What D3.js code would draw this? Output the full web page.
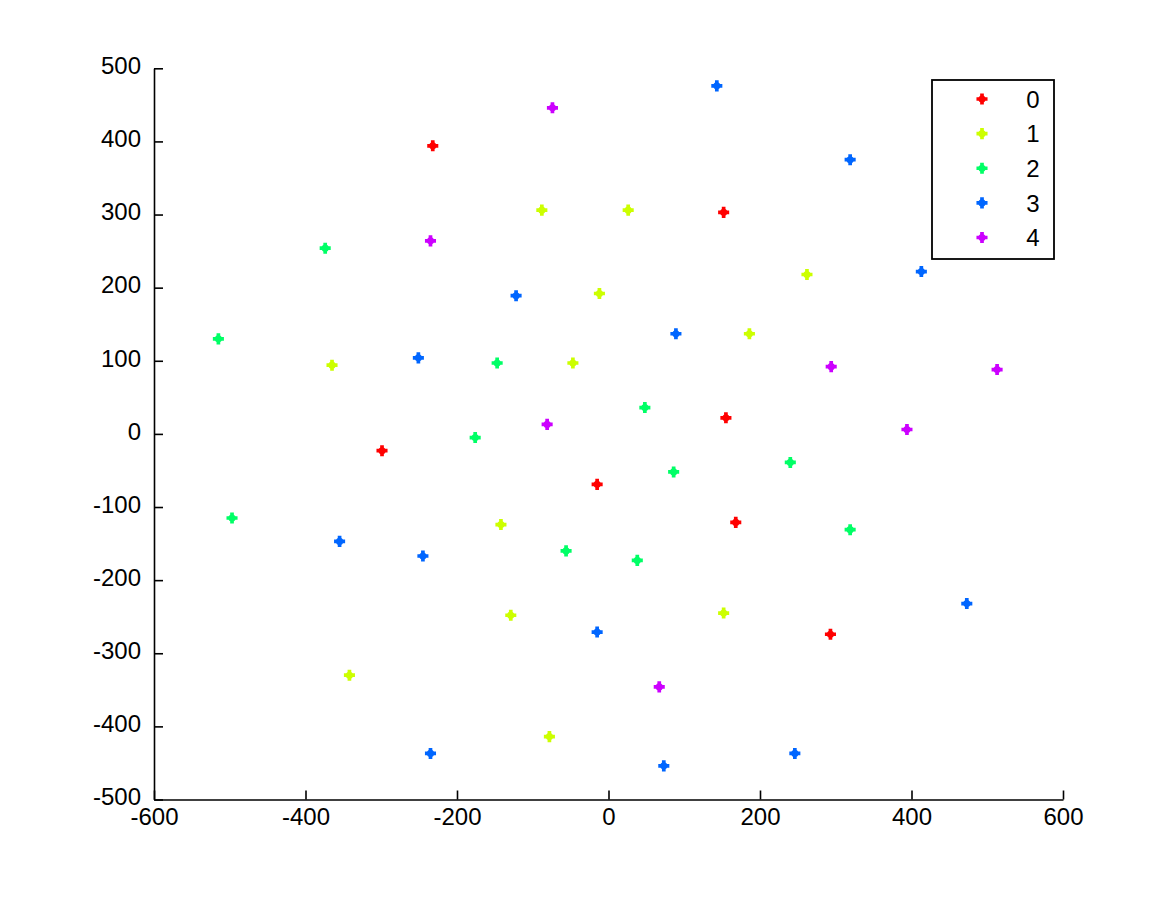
<!DOCTYPE html>
<html>
<head>
<meta charset="utf-8">
<script src="https://cdn.jsdelivr.net/npm/d3@7"></script>
<style>
  body { margin: 0; background: #fff; }
  svg text { font-family: "Liberation Sans", Arial, sans-serif; font-size: 24px; fill: #000; }
</style>
</head>
<body>
<script>
(function(){

//class labels and colours (hsv colormap, 5 classes)
var classLabels = ["0", "1", "2", "3", "4"];
var classColors = ["#ff0000", "#ccff00", "#00ff66", "#0066ff", "#cc00ff"];

//points, [x, y]
var class0 = [[-232, 394], [152, 303], [-299, -23], [155, 22], [-15, -69], [168, -121], [293, -274]];
var class1 = [[-88, 306], [26, 306], [-12, 192], [262, 218], [186, 137], [-365, 94], [-47, 97],
              [-142, -124], [-129, -248], [152, -245], [-342, -330], [-78, -414]];
var class2 = [[-374, 254], [-515, 130], [-147, 97], [48, 36], [-176, -5], [86, -52], [240, -39],
              [-497, -115], [-56, -160], [38, -173], [319, -131]];
var class3 = [[143, 476], [319, 375], [413, 222], [-122, 189], [89, 137], [-251, 104], [-355, -147],
              [-245, -167], [-15, -271], [473, -232], [-235, -437], [73, -454], [246, -437]];
var class4 = [[-74, 446], [-235, 264], [294, 92], [513, 88], [-81, 13], [394, 6], [67, -346]];

//axis ticks
var xTicks = [-600, -400, -200, 0, 200, 400, 600];
var yTicks = [-500, -400, -300, -200, -100, 0, 100, 200, 300, 400, 500];

var classes = [class0, class1, class2, class3, class4];

window.onload = drawChart();

function drawChart(){
    var width = 1175,
        height = 898;

    var svg = d3.select("body")
        .append("svg")
        .attr("width", width)
        .attr("height", height);

    //scales
    var x = d3.scaleLinear().domain([-600, 600]).range([154, 1063]);
    var y = d3.scaleLinear().domain([-500, 500]).range([799.5, 68.3]);

    //plain hyphen minus like the original
    var fmt = function(d){ return String(d); };

    //x axis, ticks pointing inward
    var xAxis = d3.axisBottom(x)
        .tickValues(xTicks)
        .tickSizeInner(-9)
        .tickSizeOuter(0)
        .tickPadding(8)
        .tickFormat(fmt);

    var gx = svg.append("g")
        .attr("class", "x axis")
        .attr("transform", "translate(0," + y(-500) + ")")
        .call(xAxis);

    //y axis, ticks pointing inward
    var yAxis = d3.axisLeft(y)
        .tickValues(yTicks)
        .tickSizeInner(-9)
        .tickSizeOuter(0)
        .tickPadding(13)
        .tickFormat(fmt);

    var gy = svg.append("g")
        .attr("class", "y axis")
        .attr("transform", "translate(" + x(-600) + ",0)")
        .call(yAxis);

    [gx, gy].forEach(function(g){
        g.select(".domain").attr("stroke", "#000").attr("stroke-width", 1.6);
        g.selectAll(".tick line").attr("stroke", "#000").attr("stroke-width", 1.6);
        g.selectAll(".tick text").style("font-size", "24px").attr("font-family", null);
    });
    gy.selectAll(".tick text").attr("dy", "0.22em");

    //marker: little cross with round core
    var crossPath = d3.symbol().type(d3.symbolCross).size(68)();
    var corePath = d3.symbol().type(d3.symbolCircle).size(40)();

    function addMarker(sel, color){
        sel.append("path").attr("d", crossPath).attr("fill", color);
        sel.append("path").attr("d", corePath).attr("fill", color);
    }

    //scatter points
    classes.forEach(function(pts, i){
        var g = svg.append("g").attr("class", "class" + i);
        g.selectAll(".pt")
            .data(pts)
            .enter()
            .append("g")
            .attr("class", "pt")
            .attr("transform", function(d){ return "translate(" + x(d[0]) + "," + y(d[1]) + ")"; })
            .each(function(){ addMarker(d3.select(this), classColors[i]); });
    });

    //legend box
    var legend = svg.append("g").attr("class", "legend");
    legend.append("rect")
        .attr("x", 932)
        .attr("y", 80)
        .attr("width", 122)
        .attr("height", 179)
        .attr("fill", "#fff")
        .attr("stroke", "#000")
        .attr("stroke-width", 1.8);

    var rowY = d3.scalePoint().domain(classLabels).range([99, 237.5]);

    var rows = legend.selectAll(".row")
        .data(classLabels)
        .enter()
        .append("g")
        .attr("class", "row");

    rows.append("g")
        .attr("transform", function(d){ return "translate(982," + rowY(d) + ")"; })
        .each(function(d, i){ addMarker(d3.select(this), classColors[i]); });

    rows.append("text")
        .attr("x", 1033)
        .attr("y", function(d){ return rowY(d); })
        .attr("dy", "0.36em")
        .attr("text-anchor", "middle")
        .text(function(d){ return d; });
}

})();
</script>
</body>
</html>
